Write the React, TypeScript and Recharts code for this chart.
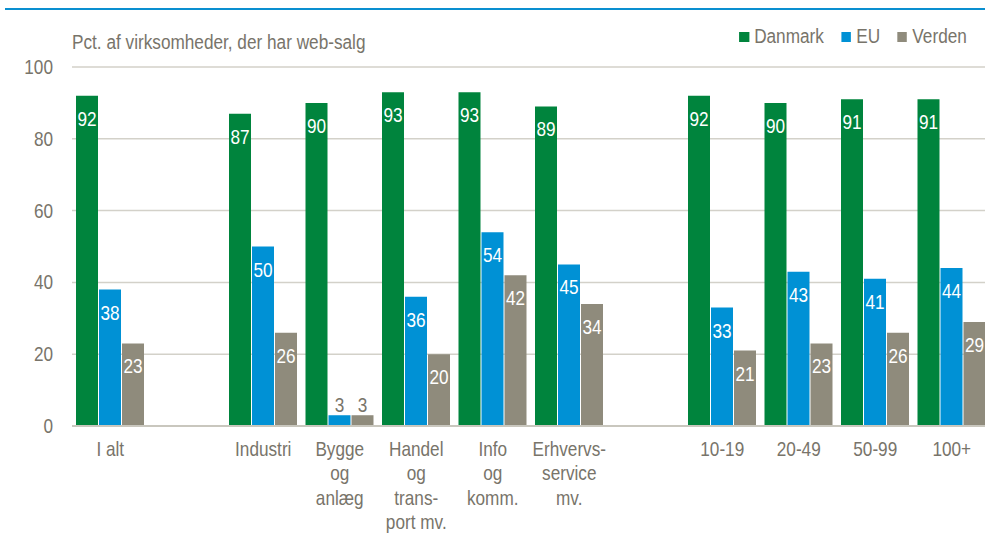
import { BarChart, Bar, XAxis, YAxis, CartesianGrid, LabelList } from 'recharts';

const categories = [
  'I alt',
  '',
  'Industri',
  'Bygge\nog\nanlæg',
  'Handel\nog\ntrans-\nport mv.',
  'Info\nog\nkomm.',
  'Erhvervs-\nservice\nmv.',
  ' ',
  '10-19',
  '20-49',
  '50-99',
  '100+',
];
const danmark = [92, null, 87, 90, 93, 93, 89, null, 92, 90, 91, 91];
const eu = [38, null, 50, 3, 36, 54, 45, null, 33, 43, 41, 44];
const verden = [23, null, 26, 3, 20, 42, 34, null, 21, 23, 26, 29];
const yTicks = [0, 20, 40, 60, 80, 100];

const series = [
  { key: 'danmark', name: 'Danmark', color: '#00843d' },
  { key: 'eu', name: 'EU', color: '#0091d5' },
  { key: 'verden', name: 'Verden', color: '#8f8b7c' },
];

const data = categories.map((name, i) => ({
  name,
  danmark: danmark[i],
  eu: eu[i],
  verden: verden[i],
}));

// no narrow font installed, so squeeze Liberation Sans horizontally
const FONT = "'Liberation Sans', Arial, sans-serif";
const NARROW = 0.86;
const TEXT = '#78746a';

const Narrow = ({ x, y, anchor = 'middle', fill = TEXT, children }: any) => (
  <g transform={`translate(${x},${y}) scale(${NARROW},1)`}>
    <text x={0} y={0} textAnchor={anchor} fill={fill} fontSize={20} fontFamily={FONT}>
      {children}
    </text>
  </g>
);

const renderLabel = (props: any) => {
  const { x, y, width, value } = props;
  if (value == null) return null;
  const cx = x + width / 2;
  if (value < 10) {
    return <Narrow x={cx} y={y - 3}>{value}</Narrow>;
  }
  return <Narrow x={cx} y={y + 30} fill="#fff">{value}</Narrow>;
};

const CategoryTick = ({ x, y, payload }: any) => {
  const lines = String(payload.value).split('\n');
  return (
    <g transform={`translate(${x},${y}) scale(${NARROW},1)`}>
      <text x={0} y={0} textAnchor="middle" fill={TEXT} fontSize={20} fontFamily={FONT}>
        {lines.map((l, i) => (
          <tspan key={i} x={0} dy={i === 0 ? 22 : 24.5}>
            {l}
          </tspan>
        ))}
      </text>
    </g>
  );
};

const ValueTick = ({ x, y, payload }: any) => (
  <Narrow x={x} y={y + 7} anchor="end">{payload.value}</Narrow>
);

export default function App() {
  return (
    <div
      style={{
        position: 'absolute',
        left: 0,
        top: 0,
        width: 985,
        height: 536,
        overflow: 'hidden',
        background: '#fff',
        fontFamily: FONT,
      }}
    >
      <div style={{ position: 'absolute', left: 5, top: 8, width: 980, height: 2, background: '#0a8fd0' }} />
      <div
        style={{
          position: 'absolute',
          left: 72,
          top: 31,
          fontSize: 20,
          color: TEXT,
          whiteSpace: 'nowrap',
          transform: `scaleX(${NARROW})`,
          transformOrigin: 'left top',
        }}
      >
        Pct. af virksomheder, der har web-salg
      </div>
      <div
        style={{
          position: 'absolute',
          right: 18,
          top: 25,
          display: 'flex',
          fontSize: 20,
          color: TEXT,
          whiteSpace: 'nowrap',
          transform: `scaleX(${NARROW})`,
          transformOrigin: 'right top',
        }}
      >
        {series.map((s) => (
          <div key={s.key} style={{ display: 'flex', alignItems: 'center', marginLeft: 20 }}>
            <span style={{ width: 11.5, height: 10, background: s.color, marginRight: 6, display: 'inline-block' }} />
            {s.name}
          </div>
        ))}
      </div>
      <BarChart
        width={1000}
        height={536}
        data={data}
        margin={{ top: 67, right: 10, bottom: 0, left: 0 }}
        barCategoryGap={4}
        barGap={1}
      >
        <CartesianGrid vertical={false} stroke="#d3d1c9" strokeWidth={1.5} />
        <YAxis
          width={72}
          domain={[0, 100]}
          ticks={yTicks}
          axisLine={false}
          tickLine={false}
          tickMargin={13}
          tick={<ValueTick />}
        />
        <XAxis
          dataKey="name"
          height={110}
          interval={0}
          tickLine={false}
          axisLine={{ stroke: '#c9c7be', strokeWidth: 2 }}
          tick={<CategoryTick />}
        />
        {series.map((s) => (
          <Bar key={s.key} dataKey={s.key} name={s.name} fill={s.color} isAnimationActive={false}>
            <LabelList dataKey={s.key} content={renderLabel} />
          </Bar>
        ))}
      </BarChart>
    </div>
  );
}
